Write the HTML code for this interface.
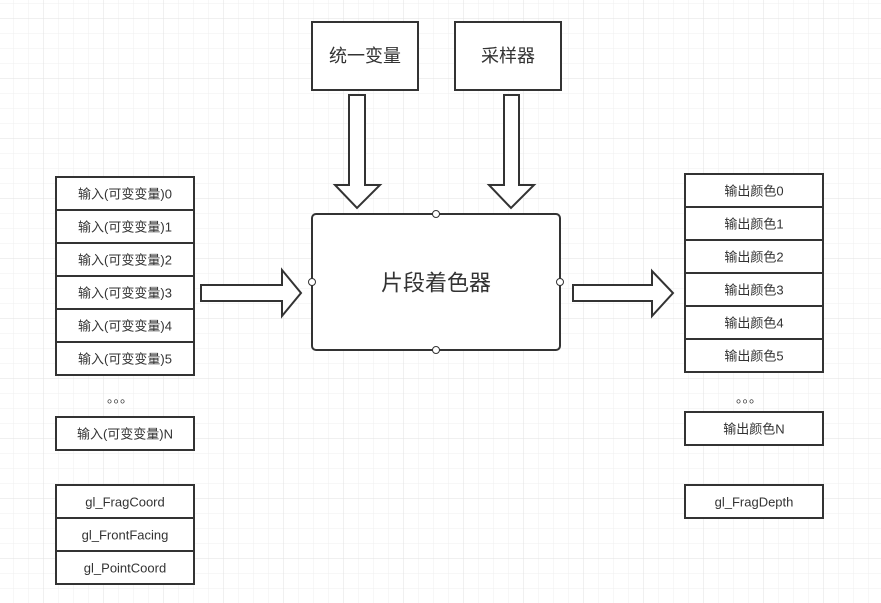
<!DOCTYPE html>
<html><head><meta charset="utf-8"><style>
html,body{margin:0;padding:0;background:#fff;}
svg{display:block;}
text{font-family:"Liberation Sans","Noto Sans CJK SC",sans-serif;fill:#333;text-anchor:middle;dominant-baseline:central;}
</style></head><body>
<svg width="881" height="603" viewBox="0 0 881 603" xmlns="http://www.w3.org/2000/svg">
<defs>
<pattern id="minor" x="13" y="3" width="15" height="15" patternUnits="userSpaceOnUse">
<path d="M0 0H15M0 0V15" stroke="#efefef" stroke-width="1" fill="none"/>
</pattern>
<pattern id="major" x="43" y="18" width="60" height="60" patternUnits="userSpaceOnUse">
<path d="M0 0H60M0 0V60" stroke="#e2e2e2" stroke-width="1" fill="none"/>
</pattern>
</defs>
<rect width="881" height="603" fill="#fff"/>
<rect width="881" height="603" fill="url(#minor)"/>
<rect width="881" height="603" fill="url(#major)"/>

<g stroke="#333" stroke-width="2" fill="#fff">
<rect x="312" y="22" width="106" height="68"/>
<rect x="455" y="22" width="106" height="68"/>
<polygon points="349,95 365,95 365,185 380,185 357,208 335,185 349,185"/>
<polygon points="504,95 519,95 519,185 534,185 511,208 489,185 504,185"/>
<polygon points="201,285 282,285 282,270 301,293 282,316 282,301 201,301"/>
<polygon points="573,285 652,285 652,271 673,293 652,316 652,301 573,301"/>
<rect x="312" y="214" width="248" height="136" rx="4"/>

<rect x="56" y="177" width="138" height="33"/>
<rect x="56" y="210" width="138" height="33"/>
<rect x="56" y="243" width="138" height="33"/>
<rect x="56" y="276" width="138" height="33"/>
<rect x="56" y="309" width="138" height="33"/>
<rect x="56" y="342" width="138" height="33"/>
<rect x="56" y="417" width="138" height="33"/>
<rect x="56" y="485" width="138" height="33"/>
<rect x="56" y="518" width="138" height="33"/>
<rect x="56" y="551" width="138" height="33"/>

<rect x="685" y="174" width="138" height="33"/>
<rect x="685" y="207" width="138" height="33"/>
<rect x="685" y="240" width="138" height="33"/>
<rect x="685" y="273" width="138" height="33"/>
<rect x="685" y="306" width="138" height="33"/>
<rect x="685" y="339" width="138" height="33"/>
<rect x="685" y="412" width="138" height="33"/>
<rect x="685" y="485" width="138" height="33"/>
</g>
<g stroke="#333" stroke-width="1" fill="#fff">
<circle cx="436" cy="214" r="3.5"/>
<circle cx="436" cy="350" r="3.5"/>
<circle cx="312" cy="282" r="3.5"/>
<circle cx="560" cy="282" r="3.5"/>
</g>

<text x="365" y="56" font-size="18">统一变量</text>
<text x="508" y="56" font-size="18">采样器</text>
<text x="436" y="283" font-size="22">片段着色器</text>

<g font-size="13">
<text x="125" y="194">输入(可变变量)0</text>
<text x="125" y="227">输入(可变变量)1</text>
<text x="125" y="260">输入(可变变量)2</text>
<text x="125" y="293">输入(可变变量)3</text>
<text x="125" y="326">输入(可变变量)4</text>
<text x="125" y="359">输入(可变变量)5</text>
<text x="120" y="398">。。。</text>
<text x="125" y="434">输入(可变变量)N</text>
<text x="125" y="502">gl_FragCoord</text>
<text x="125" y="535">gl_FrontFacing</text>
<text x="125" y="568">gl_PointCoord</text>

<text x="754" y="191">输出颜色0</text>
<text x="754" y="224">输出颜色1</text>
<text x="754" y="257">输出颜色2</text>
<text x="754" y="290">输出颜色3</text>
<text x="754" y="323">输出颜色4</text>
<text x="754" y="356">输出颜色5</text>
<text x="749" y="398">。。。</text>
<text x="754" y="429">输出颜色N</text>
<text x="754" y="502">gl_FragDepth</text>
</g>
</svg>
</body></html>
